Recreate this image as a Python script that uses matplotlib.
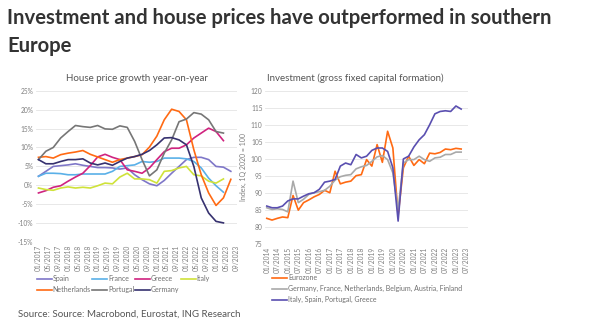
import matplotlib
matplotlib.use("Agg")
import matplotlib.pyplot as plt
import numpy as np

plt.rcParams['font.family'] = ['Lato', 'DejaVu Sans']

# house price growth, quarterly from Q1 2017 (%)
hp_spain = [2.4, 3.7, 5.0, 5.2, 5.4, 5.7, 5.3, 5.0, 4.7, 4.7, 4.6, 4.3, 4.6, 2.8, 1.5, 0.4,
            -0.1, 1.3, 3.2, 5.0, 6.8, 7.4, 7.4, 6.8, 5.0, 4.8, 3.7]
hp_france = [2.4, 3.2, 3.2, 3.1, 2.8, 2.8, 3.0, 3.0, 3.0, 3.0, 3.7, 5.0, 5.2, 5.4, 6.3, 6.1,
             6.3, 7.2, 7.2, 7.2, 7.0, 6.3, 4.6, 1.9, -0.1, -1.8]
hp_greece = [-2.0, -1.4, -0.5, -0.1, 1.1, 2.2, 3.2, 5.2, 7.5, 8.2, 7.4, 6.8, 4.1, 3.7, 3.2, 4.6,
             6.8, 8.9, 9.8, 9.8, 10.7, 12.5, 13.8, 15.1, 14.2, 11.8]
hp_italy = [-0.7, -1.1, -1.3, -0.7, -0.4, -0.7, -0.5, -0.7, -0.1, 0.6, 0.4, 2.2, 3.2, 1.7, 1.7, 1.5,
            0.6, 3.7, 3.9, 4.6, 5.0, 2.8, 2.5, 1.1, 0.6, 1.7]
hp_netherlands = [7.4, 7.6, 7.2, 8.1, 8.5, 8.8, 9.2, 8.2, 7.5, 6.8, 6.1, 6.8, 7.2, 7.6, 8.1, 10.1,
                  13.0, 17.3, 20.1, 19.5, 17.3, 9.4, 2.8, -2.0, -5.3, -3.3, 1.6]
hp_portugal = [6.8, 9.0, 10.0, 12.5, 14.2, 15.8, 15.5, 15.3, 15.8, 14.9, 14.8, 15.7, 15.3, 11.6, 6.8, 2.5,
               4.1, 8.5, 12.0, 16.8, 17.5, 19.2, 18.8, 17.3, 14.2, 13.8]
hp_germany = [6.8, 5.7, 5.7, 6.3, 6.8, 6.8, 7.0, 5.9, 5.4, 5.9, 5.3, 6.3, 7.2, 7.6, 8.2, 9.2,
              10.7, 12.5, 12.6, 12.0, 10.7, 5.0, -3.3, -7.3, -9.5, -9.9]
hp_labels = ['01/2017', '05/2017', '09/2017', '01/2018', '05/2018', '09/2018', '01/2019',
             '05/2019', '09/2019', '01/2020', '05/2020', '09/2020', '01/2021', '05/2021',
             '09/2021', '01/2022', '05/2022', '09/2022', '01/2023', '05/2023', '09/2023']

# gross fixed capital formation, index 1Q 2020 = 100, quarterly from Q1 2014
inv_eurozone = [82.6, 82.1, 82.6, 83.0, 82.8, 89.3, 85.0, 87.2, 88.0, 88.9, 89.6, 90.8, 90.1, 96.4,
                92.7, 93.2, 93.5, 95.1, 95.4, 99.8, 97.9, 104.2, 99.0, 108.1, 103.2, 83.5,
                97.4, 100.8, 98.1, 99.8, 98.6, 101.7, 101.5, 101.9, 102.9, 102.7, 103.1, 102.9]
inv_north = [85.7, 85.2, 85.4, 85.2, 84.5, 93.5, 87.2, 88.2, 89.6, 90.1, 90.4, 90.8, 92.0, 93.8,
             94.8, 95.2, 95.4, 97.1, 97.7, 98.1, 99.3, 100.6, 101.0, 99.8, 95.9, 85.2,
             98.8, 99.8, 99.8, 100.8, 99.8, 99.3, 100.3, 100.5, 101.3, 101.3, 102.0, 102.0]
inv_south = [86.2, 85.7, 85.7, 86.2, 87.7, 88.3, 88.3, 89.1, 89.8, 90.1, 91.1, 93.2, 93.5, 94.0,
             97.9, 98.8, 98.3, 101.3, 100.3, 100.8, 102.5, 103.2, 103.2, 102.2, 97.4, 81.8,
             100.0, 100.8, 103.5, 105.6, 107.1, 110.0, 113.2, 113.9, 114.1, 113.9, 115.5, 114.6]
inv_labels = ['01/2014', '07/2014', '01/2015', '07/2015', '01/2016', '07/2016', '01/2017',
              '07/2017', '01/2018', '07/2018', '01/2019', '07/2019', '01/2020', '07/2020',
              '01/2021', '07/2021', '01/2022', '07/2022', '01/2023', '07/2023']

tick_col = '#7f7f7f'
grid_col = '#e4e4e4'

fig = plt.figure(figsize=(6, 3.26), dpi=100)

fig.text(0.012, 0.945, "Investment and house prices have outperformed in southern",
         fontsize=14.6, fontweight='bold', color='#333333', va='center', ha='left')
fig.text(0.012, 0.859, "Europe",
         fontsize=14.6, fontweight='bold', color='#333333', va='center', ha='left')


def style_axes(ax):
    for s in ax.spines.values():
        s.set_visible(False)
    ax.grid(axis='y', color=grid_col, lw=0.6)
    ax.set_axisbelow(True)
    ax.tick_params(length=0, labelsize=4.8, labelcolor=tick_col, pad=2)


# left panel
ax1 = fig.add_axes([0.06, 0.257, 0.335, 0.465])
style_axes(ax1)
series = [('Spain', hp_spain, '#7f77c8'), ('France', hp_france, '#5ab0e8'),
          ('Greece', hp_greece, '#d0237f'), ('Italy', hp_italy, '#cfe23a'),
          ('Netherlands', hp_netherlands, '#ff6a13'), ('Portugal', hp_portugal, '#767676'),
          ('Germany', hp_germany, '#36316f')]
handles = {}
for name, vals, col in series:
    months = np.arange(len(vals)) * 3
    h, = ax1.plot(months, vals, color=col, lw=1.2, label=name)
    handles[name] = h
ax1.set_ylim(-15, 25)
ax1.set_yticks(np.arange(-15, 26, 5))
ax1.set_yticklabels([f"{v}%" for v in range(-15, 26, 5)])
ax1.set_xlim(-1, 80.5)
ax1.set_xticks(np.arange(len(hp_labels)) * 4)
ax1.set_xticklabels(hp_labels, rotation=90)
ax1.set_title("House price growth year-on-year", fontsize=7, color='#555555', pad=7)
order = ['Spain', 'Netherlands', 'France', 'Portugal', 'Greece', 'Germany', 'Italy']
ax1.legend([handles[n] for n in order], order, ncol=4, loc='upper left',
           bbox_to_anchor=(-0.01, -0.2), frameon=False, fontsize=5, labelcolor='#6f6f6f',
           handlelength=2.2, handletextpad=0.1, columnspacing=0.15, labelspacing=0.6,
           borderaxespad=0)

# right panel
ax2 = fig.add_axes([0.442, 0.2506, 0.338, 0.4714])
style_axes(ax2)
qx = np.arange(len(inv_eurozone))
ax2.plot(qx, inv_eurozone, color='#ff6a13', lw=1.2, label='Eurozone')
ax2.plot(qx, inv_north, color='#a9a9a9', lw=1.2,
         label='Germany, France, Netherlands, Belgium, Austria, Finland')
ax2.plot(qx, inv_south, color='#5a4fb0', lw=1.2, label='Italy, Spain, Portugal, Greece')
ax2.set_ylim(75, 120)
ax2.set_yticks(np.arange(75, 121, 5))
ax2.set_xlim(-0.3, 38.3)
ax2.set_xticks(np.arange(len(inv_labels)) * 2)
ax2.set_xticklabels(inv_labels, rotation=90)
ax2.set_ylabel("Index, 1Q 2020 = 100", fontsize=5, color=tick_col, labelpad=3)
ax2.set_title("Investment (gross fixed capital formation)", fontsize=7, color='#555555',
              pad=7, loc='left', x=0.01)
ax2.legend(loc='upper left', bbox_to_anchor=(0.02, -0.175), frameon=False, fontsize=5,
           labelcolor='#6f6f6f', handlelength=2.2, handletextpad=0.1, labelspacing=0.6,
           borderaxespad=0)

fig.text(0.03, 0.035, "Source: Source: Macrobond, Eurostat, ING Research", fontsize=7,
         color='#555555', va='center')

fig.savefig('out.png', dpi=100)
